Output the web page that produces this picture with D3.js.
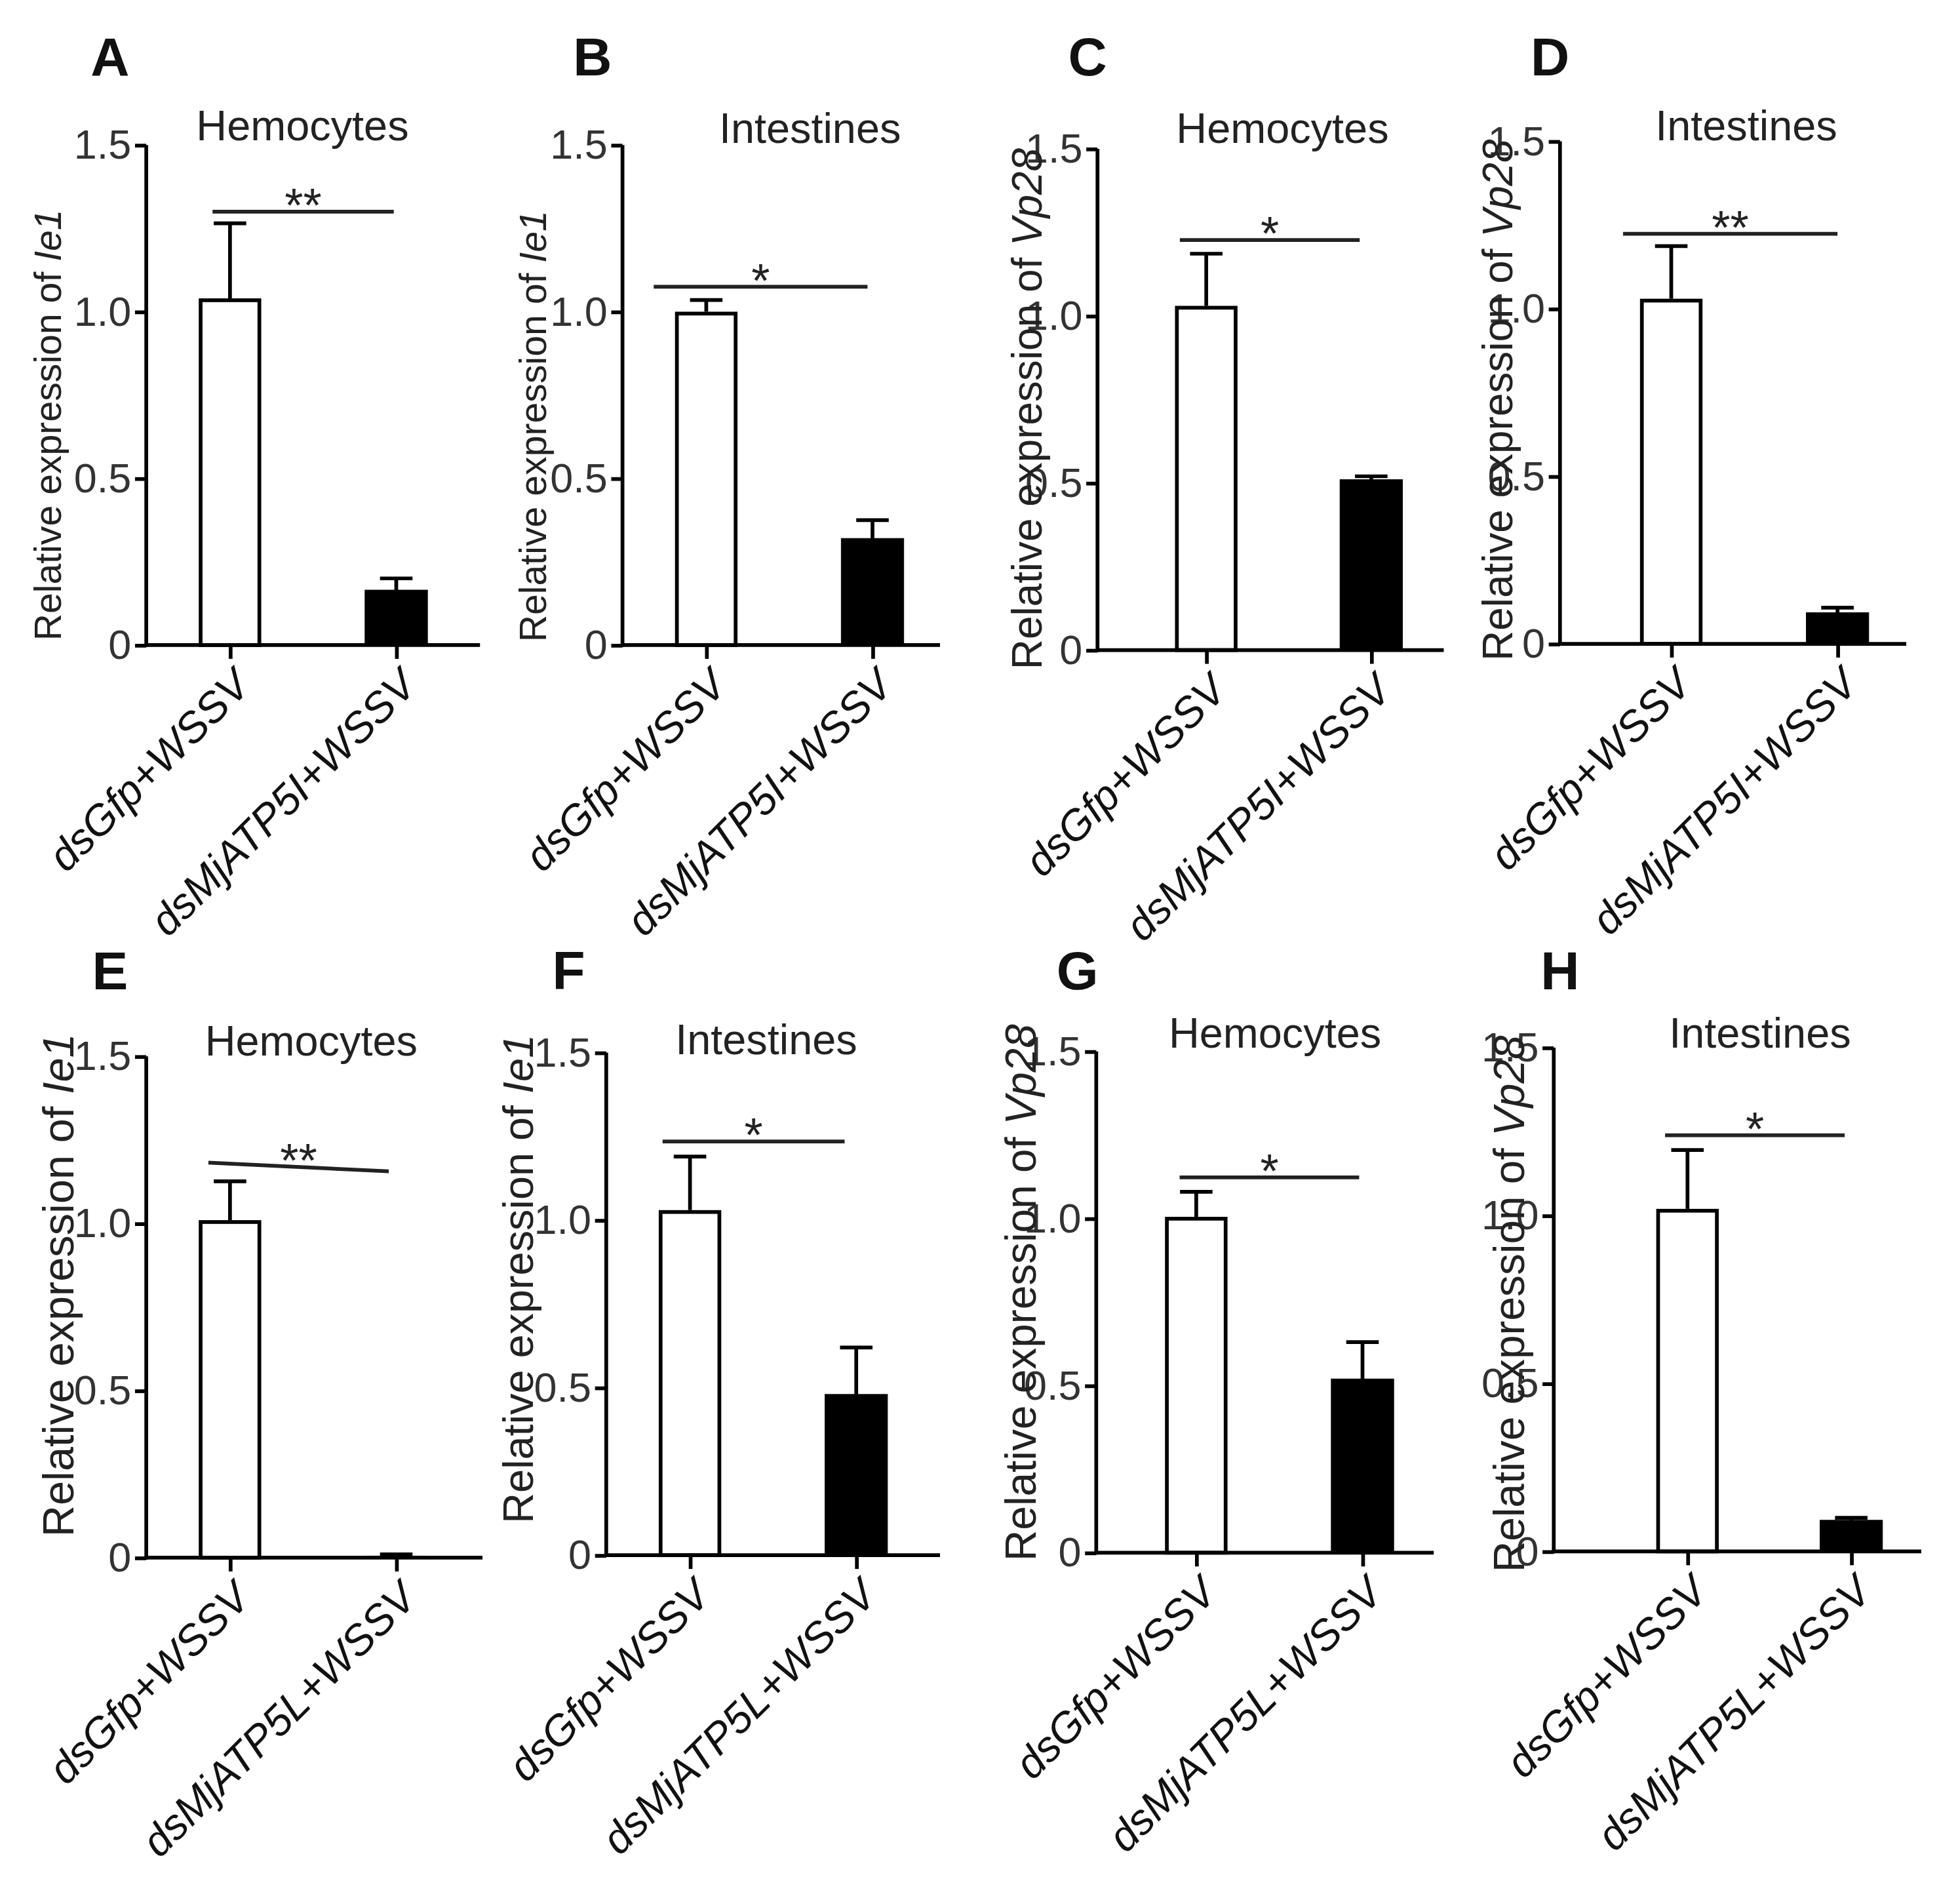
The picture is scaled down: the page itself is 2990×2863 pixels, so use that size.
<!DOCTYPE html>
<html><head><meta charset="utf-8">
<script src="https://cdn.jsdelivr.net/npm/d3@7"></script>
<style>html,body{margin:0;padding:0;background:#fff;}svg{display:block;}</style>
</head><body>
<svg id="chart"></svg>
<script>
// ---------------- DATA ----------------
const panelLetters = ["A","B","C","D","E","F","G","H"];
const tissues = ["Hemocytes","Intestines","Hemocytes","Intestines","Hemocytes","Intestines","Hemocytes","Intestines"];
const genes = ["Ie1","Ie1","Vp28","Vp28","Ie1","Ie1","Vp28","Vp28"];
const categoriesTop = ["dsGfp+WSSV","dsMjATP5I+WSSV"];
const categoriesBottom = ["dsGfp+WSSV","dsMjATP5L+WSSV"];
const meanControl   = [1.04, 1.00, 1.03, 1.03, 1.01, 1.03, 1.005, 1.02];
const errControl    = [1.265,1.035,1.186,1.187,1.126,1.19, 1.08, 1.195];
const meanKnockdown = [0.165,0.32, 0.51, 0.093,0.005,0.48, 0.52, 0.093];
const errKnockdown  = [0.20, 0.375,0.52, 0.108,0.01, 0.62, 0.63, 0.10];
const sigLabels = ["**","*","*","**","**","*","*","*"];
const sigYStart = [1.30, 1.075,1.227,1.224,1.182,1.235,1.123,1.239];
const sigYEnd   = [1.30, 1.075,1.227,1.224,1.156,1.235,1.123,1.239];
const sigFrom   = [-0.105,-0.316,-0.16,-0.29,-0.13,-0.165,-0.10,-0.137]; // in category units
const sigTo     = [0.985, 0.97, 0.93, 1.0, 0.955, 0.93, 0.98, 0.96];
const yTicks = [0, 0.5, 1.0, 1.5];
const yTickLabels = ["0","0.5","1.0","1.5"];

// ---------------- LAYOUT ----------------
const W = 2990, H = 2863, VW = 1568, VH = 1501.4;
const layout = [
  {ax:117, y0:516, y15:116, xEnd:384, t1:184, t2:317, lx:88,   ly:45,  tx:242,  ty:100, ylx:38,   yly:340,  yfs:30},
  {ax:498, y0:516, y15:116, xEnd:752, t1:565, t2:698, lx:474,  ly:45,  tx:648,  ty:102, ylx:426,  yly:341,  yfs:30},
  {ax:878, y0:520, y15:119, xEnd:1155,t1:965, t2:1097,lx:870,  ly:45,  tx:1026, ty:102, ylx:821,  yly:327,  yfs:33.5},
  {ax:1248,y0:515, y15:113, xEnd:1525,t1:1337,t2:1470,lx:1240, ly:45,  tx:1397, ty:100, ylx:1198, yly:320,  yfs:33.5},
  {ax:117, y0:1246,y15:845, xEnd:386, t1:184, t2:317, lx:88,   ly:776, tx:249,  ty:832, ylx:46,   yly:1028, yfs:35},
  {ax:485, y0:1244,y15:842, xEnd:752, t1:552, t2:685, lx:455,  ly:776, tx:613,  ty:831, ylx:414,  yly:1023, yfs:34},
  {ax:877, y0:1242,y15:841, xEnd:1147,t1:957, t2:1090,lx:862,  ly:776, tx:1020, ty:826, ylx:816,  yly:1034, yfs:34.5},
  {ax:1243,y0:1241,y15:838, xEnd:1537,t1:1350,t2:1481,lx:1248, ly:776, tx:1408, ty:826, ylx:1207, yly:1043, yfs:34.5}
];
const FONT = "'Liberation Sans', Arial, Helvetica, sans-serif";
const SW = 3;
const barW = 50, capW = 26;

const svg = d3.select("#chart").attr("width", W).attr("height", H)
  .attr("viewBox", `0 0 ${VW} ${VH}`).style("font-family", FONT);
svg.append("rect").attr("width", VW).attr("height", VH).attr("fill", "#fff");

layout.forEach((L, i) => {
  const g = svg.append("g");
  const cats = i < 4 ? categoriesTop : categoriesBottom;
  const y = d3.scaleLinear().domain([0, 1.5]).range([L.y0, L.y15]);
  const x = d3.scalePoint().domain(cats).range([L.t1, L.t2]);
  const xi = d3.scaleLinear().domain([0, 1]).range([L.t1, L.t2]);

  // panel letter
  g.append("text").attr("x", L.lx).attr("y", L.ly).attr("dy", "0.36em")
    .attr("text-anchor", "middle").attr("font-weight", 900).attr("font-size", 43)
    .attr("fill", "#111").text(panelLetters[i]);
  // title
  g.append("text").attr("x", L.tx).attr("y", L.ty).attr("dy", "0.36em")
    .attr("text-anchor", "middle").attr("font-size", 34).attr("fill", "#222").text(tissues[i]);

  const vals = [meanControl[i], meanKnockdown[i]];
  const errs = [errControl[i], errKnockdown[i]];
  const data = cats.map((c, k) => ({c, v: vals[k], e: errs[k], k}));

  // error bars (upper only)
  const eb = g.append("g").attr("stroke", "#000").attr("stroke-width", SW);
  eb.selectAll("line.v").data(data).join("line")
    .attr("x1", d => x(d.c)).attr("x2", d => x(d.c))
    .attr("y1", d => y(d.v)).attr("y2", d => y(d.e));
  eb.selectAll("line.c").data(data).join("line")
    .attr("x1", d => x(d.c) - capW/2).attr("x2", d => x(d.c) + capW/2)
    .attr("y1", d => y(d.e)).attr("y2", d => y(d.e));

  // bars
  g.selectAll("rect.bar").data(data).join("rect")
    .attr("x", d => x(d.c) - barW/2 + (d.k === 0 ? SW/2 : 0))
    .attr("width", d => barW - (d.k === 0 ? SW : 0))
    .attr("y", d => y(d.v) + (d.k === 0 ? SW/2 : 0))
    .attr("height", d => Math.max(0, L.y0 - y(d.v) - (d.k === 0 ? SW/2 : 0)))
    .attr("fill", d => d.k === 0 ? "#fff" : "#000")
    .attr("stroke", "#000").attr("stroke-width", d => d.k === 0 ? SW : 0.5);

  // y axis
  const yAxis = d3.axisLeft(y).tickValues(yTicks)
    .tickFormat((d, j) => yTickLabels[j]).tickSize(9).tickSizeOuter(0).tickPadding(3);
  const ya = g.append("g").attr("transform", `translate(${L.ax},0)`).call(yAxis);
  ya.select(".domain").attr("stroke", "#000").attr("stroke-width", SW)
    .attr("d", `M0,${L.y0 + SW/2}V${L.y15}`);
  ya.selectAll(".tick line").attr("stroke", "#000").attr("stroke-width", SW);
  ya.selectAll(".tick text").attr("font-size", 33).attr("fill", "#333")
    .attr("font-family", FONT);

  // x axis
  const xAxis = d3.axisBottom(x).tickSize(11).tickSizeOuter(0).tickFormat("");
  const xa = g.append("g").attr("transform", `translate(0,${L.y0})`).call(xAxis);
  xa.select(".domain").attr("stroke", "#000").attr("stroke-width", SW)
    .attr("d", `M${L.ax},0H${L.xEnd}`);
  xa.selectAll(".tick line").attr("stroke", "#000").attr("stroke-width", SW);

  // x labels rotated 45°
  g.selectAll("text.xl").data(cats).join("text")
    .attr("text-anchor", "end").attr("font-style", "italic").attr("font-size", 34)
    .attr("fill", "#111")
    .attr("transform", d => `translate(${x(d) + 18},${L.y0 + 34}) rotate(-45)`)
    .text(d => d);

  // y label
  const yl = g.append("text").attr("text-anchor", "middle")
    .attr("transform", `translate(${L.ylx},${L.yly}) rotate(-90)`)
    .attr("dy", "0.36em").attr("font-size", L.yfs).attr("fill", "#222");
  yl.append("tspan").text("Relative expression of ");
  yl.append("tspan").attr("font-style", "italic").text(genes[i]);

  // significance bracket
  g.append("line").attr("stroke", "#222").attr("stroke-width", SW)
    .attr("x1", xi(sigFrom[i])).attr("x2", xi(sigTo[i]))
    .attr("y1", y(sigYStart[i])).attr("y2", y(sigYEnd[i]));
  g.append("text").attr("text-anchor", "middle").attr("font-size", 38).attr("fill", "#222")
    .attr("x", (xi(sigFrom[i]) + xi(sigTo[i])) / 2)
    .attr("y", y((sigYStart[i] + sigYEnd[i]) / 2) + 8)
    .text(sigLabels[i]);
});
</script>
</body></html>
